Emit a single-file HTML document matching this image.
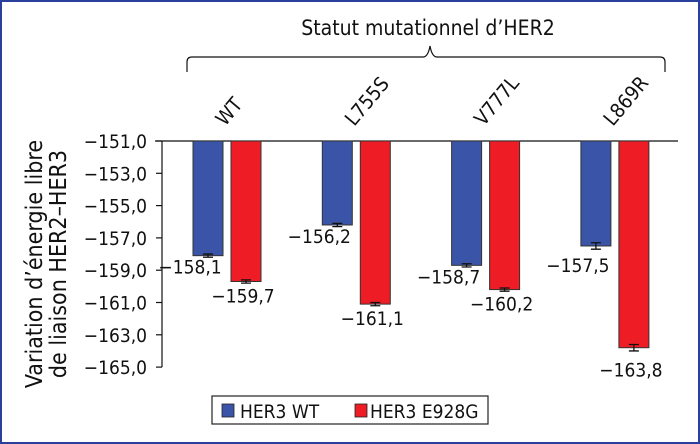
<!DOCTYPE html>
<html><head><meta charset="utf-8"><style>
body{margin:0;background:#fff}
svg{display:block;font-family:"DejaVu Sans Condensed","Liberation Sans",sans-serif}
</style></head><body>
<svg width="700" height="444" viewBox="0 0 700 444">
<rect x="1" y="1" width="698" height="442" fill="#fff" stroke="#2a3f9c" stroke-width="2"/>
<text x="428" y="35" font-size="21" text-anchor="middle" fill="#111">Statut mutationnel d’HER2</text>
<path d="M187,72 V62 Q187,57 192,57 H423 Q428,57 430,46 Q432,57 437,57 H660 Q665,57 665,62 V72" fill="none" stroke="#111" stroke-width="1.2"/>
<text transform="translate(42,264) rotate(-90)" font-size="23" text-anchor="middle" fill="#111">Variation d’énergie libre</text>
<text transform="translate(66,264) rotate(-90)" font-size="23" text-anchor="middle" fill="#111">de liaison HER2–HER3</text>
<g id="plot"></g>
<g>
<rect x="212" y="396" width="276" height="28" fill="#fff" stroke="#222" stroke-width="1.2"/>
<rect x="222" y="404" width="12" height="13" fill="#3a55a8" stroke="#222" stroke-width="0.8"/>
<text x="240" y="418" font-size="19" fill="#111">HER3 WT</text>
<rect x="355" y="404" width="12" height="13" fill="#ee1c25" stroke="#222" stroke-width="0.8"/>
<text x="370" y="418" font-size="19" fill="#111">HER3 E928G</text>
</g>
</svg>
<script>
const categories=["WT","L755S","V777L","L869R"];
const wtValues=[-158.1,-156.2,-158.7,-157.5];
const mutValues=[-159.7,-161.1,-160.2,-163.8];
const wtErr=[0.1,0.1,0.1,0.2];
const mutErr=[0.1,0.1,0.1,0.2];
const yTicks=[-151,-153,-155,-157,-159,-161,-163,-165];
const NS="http://www.w3.org/2000/svg";
const g=document.getElementById('plot');
const y0=141, pxPerUnit=16.15, yTop=-151;
function y(v){return y0+(yTop-v)*pxPerUnit;}
function gx(i){return 193+i*129.3;}
function el(t,a){const e=document.createElementNS(NS,t);for(const k in a)e.setAttribute(k,a[k]);g.appendChild(e);return e;}
function fmt(v){return "−"+Math.abs(v).toFixed(1).replace(".",",");}
let ax=el('line',{x1:162,y1:y(-151),x2:162,y2:y(-165),stroke:'#111','stroke-width':1.2});


let bl=el('line',{x1:155,y1:y0,x2:678,y2:y0,stroke:'#111','stroke-width':1.2});


yTicks.forEach(t=>{
 let tk=el('line',{x1:156,y1:y(t),x2:162,y2:y(t),stroke:'#111','stroke-width':1.2});
 
 
 let tl=el('text',{x:147,y:y(t)+7,'font-size':19,'text-anchor':'end',fill:'#111'});
 tl.textContent=fmt(t);
 
 
});
function bar(x,v,e,color,name,lx){
 let r=el('rect',{x:x,y:y0,width:30,height:y(v)-y0,fill:color,stroke:'#333','stroke-width':1});
 
 
 let cx=x+15;
 let eb=el('path',{d:`M${cx-5},${y(v-e)}H${cx+5}M${cx},${y(v-e)}V${y(v+e)}M${cx-5},${y(v+e)}H${cx+5}`,stroke:'#111','stroke-width':1.3,fill:'none'});
 
 
 let t=el('text',{x:cx+lx,y:y(v)+(lx<-5?18:21)+(e>0.15?8:0),'font-size':19,'text-anchor':'middle',fill:'#111'});
 t.textContent=fmt(v);
 
 
}
categories.forEach((c,i)=>{
 const x=gx(i);
 bar(x,wtValues[i],wtErr[i],'#3a55a8','bar-her3-wt-'+c.toLowerCase(),-18);
 bar(x+38,mutValues[i],mutErr[i],'#ee1c25','bar-her3-e928g-'+c.toLowerCase(),-3);
 let cl=el('text',{transform:`translate(${x+32},127) rotate(-50)`,'font-size':20,fill:'#111'});
 cl.textContent=c;
 
 
});
</script>
</body></html>
